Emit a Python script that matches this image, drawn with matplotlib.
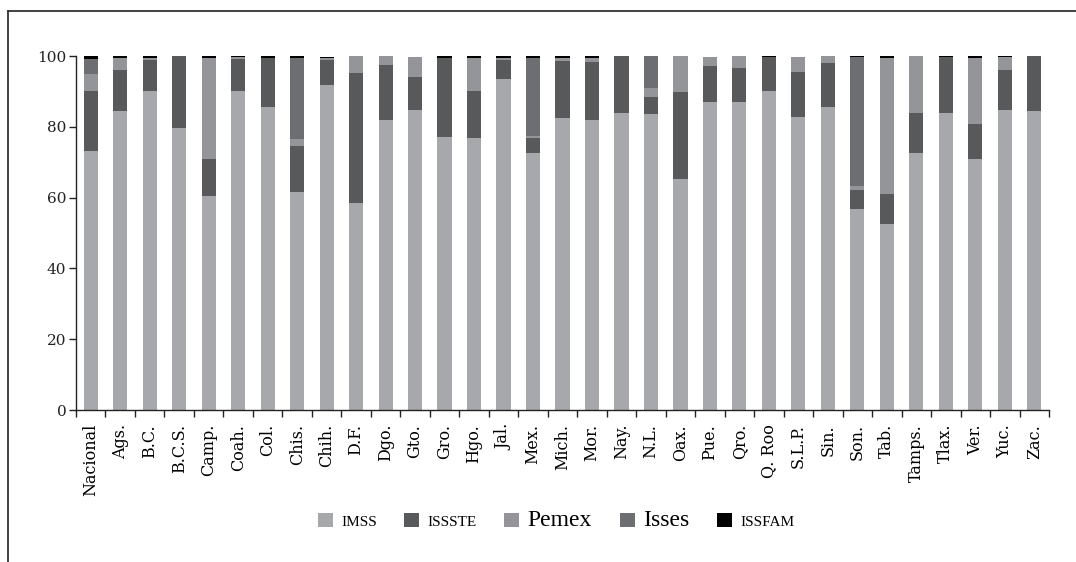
import matplotlib
matplotlib.use("Agg")
import matplotlib.pyplot as plt
import numpy as np
from matplotlib.lines import Line2D
from matplotlib import font_manager

categories = ["Nacional", "Ags.", "B.C.", "B.C.S.", "Camp.", "Coah.", "Col.", "Chis.", "Chih.",
              "D.F.", "Dgo.", "Gto.", "Gro.", "Hgo.", "Jal.", "Mex.", "Mich.", "Mor.", "Nay.",
              "N.L.", "Oax.", "Pue.", "Qro.", "Q. Roo", "S.L.P.", "Sin.", "Son.", "Tab.",
              "Tamps.", "Tlax.", "Ver.", "Yuc.", "Zac."]

imss   = [73.1, 84.4, 90.1, 79.6, 60.4, 90.1, 85.6, 61.5, 91.8,
          58.4, 81.9, 84.7, 77.2, 76.9, 93.5, 72.6, 82.5, 81.9, 83.9,
          83.6, 65.2, 87.0, 87.0, 90.1, 82.8, 85.6, 56.7, 52.5,
          72.6, 83.9, 70.8, 84.7, 84.4]
issste = [17.0, 11.6, 8.8, 20.4, 10.4, 9.1, 13.9, 13.0, 7.1,
          36.8, 15.6, 9.4, 22.2, 13.2, 5.3, 4.3, 16.1, 16.4, 16.1,
          4.8, 24.6, 10.2, 9.6, 9.6, 12.7, 12.4, 5.4, 8.4,
          11.3, 15.8, 10.0, 11.3, 15.6]
pemex  = [4.8, 3.5, 0.6, 0.0, 28.6, 0.6, 0.0, 2.0, 0.6,
          4.8, 2.5, 5.6, 0.0, 9.3, 0.6, 0.5, 0.8, 1.1, 0.0,
          2.5, 10.2, 2.6, 3.4, 0.0, 4.2, 2.0, 1.1, 38.5,
          16.1, 0.0, 18.6, 3.7, 0.0]
isses  = [4.25, 0.0, 0.0, 0.0, 0.0, 0.0, 0.0, 23.0, 0.0,
          0.0, 0.0, 0.0, 0.0, 0.0, 0.0, 22.0, 0.0, 0.0, 0.0,
          9.1, 0.0, 0.0, 0.0, 0.0, 0.0, 0.0, 36.5, 0.0,
          0.0, 0.0, 0.0, 0.0, 0.0]
issfam = [0.85, 0.5, 0.5, 0.0, 0.5, 0.2, 0.5, 0.5, 0.3,
          0.0, 0.0, 0.0, 0.6, 0.6, 0.6, 0.6, 0.6, 0.6, 0.0,
          0.0, 0.0, 0.0, 0.0, 0.3, 0.0, 0.0, 0.3, 0.6,
          0.0, 0.3, 0.6, 0.3, 0.0]

series = [("IMSS", imss, "#a7a8ab"), ("ISSSTE", issste, "#58595b"),
          ("Pemex", pemex, "#939598"), ("Isses", isses, "#6d6e71"),
          ("ISSFAM", issfam, "#000000")]

plt.rcParams['font.family'] = ['Liberation Serif', 'DejaVu Serif']
installed = {f.name for f in font_manager.fontManager.ttflist}
tick_family = 'DejaVu Serif Condensed' if 'DejaVu Serif Condensed' in installed else 'DejaVu Serif'

fig = plt.figure(figsize=(10.76, 5.62), dpi=100)
ax = fig.add_axes([76/1076, 1 - 410/562, (1049 - 76)/1076, (410 - 56)/562])

x = np.arange(len(categories))
bottom = np.zeros(len(categories))
handles = []
for name, vals, col in series:
    v = np.array(vals)
    b = ax.bar(x, v, width=0.48, bottom=bottom, color=col, label=name, linewidth=0)
    handles.append(b)
    bottom += v

ax.set_xlim(-0.5, len(categories) - 0.5)
ax.set_ylim(0, 100)
ax.set_yticks([0, 20, 40, 60, 80, 100])
ax.tick_params(axis='y', direction='out', length=5, width=1, pad=2, colors='#222222')
for lab in ax.get_yticklabels():
    lab.set_family(tick_family)
    lab.set_fontsize(11)
ax.set_xticks(x)
ax.set_xticklabels(categories, rotation=90, fontsize=11.5, family=tick_family)
ax.tick_params(axis='x', which='major', length=0, pad=10)
ax.set_xticks(np.arange(-0.5, len(categories), 1), minor=True)
ax.tick_params(axis='x', which='minor', direction='out', length=5, width=1, color='#222222')
for s in ['top', 'right']:
    ax.spines[s].set_visible(False)
for s in ['left', 'bottom']:
    ax.spines[s].set_color('#222222')
    ax.spines[s].set_linewidth(1)

leg = fig.legend(handles=handles, labels=[s[0] for s in series], loc='center',
                 bbox_to_anchor=(556/1076, 1 - 520/562), ncol=5, frameon=False,
                 handlelength=0.9, handleheight=0.9, handletextpad=0.5,
                 columnspacing=1.65, fontsize=12)
sizes = [11, 11, 17, 17, 11]
for t, sz in zip(leg.get_texts(), sizes):
    t.set_fontsize(sz)

# outer frame (top and left visible)
fig.add_artist(Line2D([8/1076, 1.0], [1 - 11/562, 1 - 11/562], transform=fig.transFigure,
                      color='#333333', linewidth=1.3))
fig.add_artist(Line2D([8/1076, 8/1076], [0, 1 - 11/562], transform=fig.transFigure,
                      color='#333333', linewidth=1.3))

fig.savefig("out.png", dpi=100)
